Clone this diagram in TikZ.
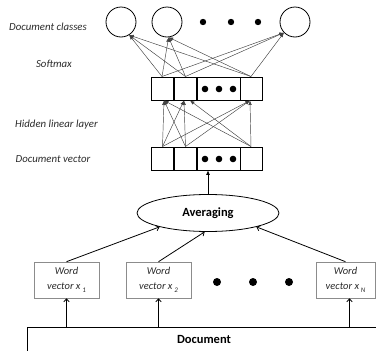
\documentclass[tikz,border=0pt]{standalone}
\usepackage{fontspec}
\setmainfont{Carlito}
\usetikzlibrary{arrows.meta,shapes.geometric}
\definecolor{txt}{HTML}{2A2A2A}
\definecolor{conn}{HTML}{404040}
\newcommand{\wsub}[1]{\,\raisebox{-2.5pt}{\fontsize{7}{8}\selectfont #1}}
\tikzset{
  lbl/.style={font=\fontsize{10.8}{13}\selectfont\itshape, text=txt, inner sep=0pt},
  cls/.style={circle, draw, line width=0.8pt, minimum size=30pt, inner sep=0pt},
  cell/.style={rectangle, draw, line width=0.95pt, minimum width=22pt, minimum height=23pt, inner sep=0pt},
  midcell/.style={rectangle, draw, line width=0.7pt, minimum width=43pt, minimum height=23pt, inner sep=0pt},
  wordbox/.style={rectangle, draw=gray!90, line width=0.6pt, minimum height=36pt, inner sep=0pt, align=center,
     font=\fontsize{10.5}{15}\selectfont\itshape, text=txt},
  conarrow/.style={conn, line width=0.45pt, -{Latex[length=4.5pt,width=3.5pt]}},
  openarrow/.style={line width=0.8pt, -{Straight Barb[length=3pt,width=5.5pt]}},
  dotf/.style={fill=black},
}
\begin{document}
\begin{tikzpicture}[x=1pt,y=-1pt]
\useasboundingbox (0,0) rectangle (376,351);
\clip (0,0) rectangle (376,351);
% output classes
\node[cls] (c1) at (121,22) {};
\node[cls] (c2) at (167,22) {};
\node[cls] (c3) at (295,22) {};
\fill[dotf] (203,22) circle (3.2) (231,22) circle (3.2) (258,22) circle (3.2);
% hidden layer
\node[midcell] (hm) at (218.5,88.5) {};
\node[cell] (h1) at (162,88.5) {};
\node[cell] (h2) at (185.5,88.5) {};
\node[cell] (h4) at (251,88.5) {};
\fill[dotf] (205,89) circle (3.3) (219,89) circle (3.3) (233,89) circle (3.3);
% document vector
\node[midcell] (dm) at (218.5,158.5) {};
\node[cell] (d1) at (162.5,158.5) {};
\node[cell] (d2) at (185.5,158.5) {};
\node[cell] (d4) at (251,158.5) {};
\fill[dotf] (205,159) circle (3.3) (219,159) circle (3.3) (233,159) circle (3.3);
% labels
\node[lbl] (l1) at (48,27) {Document classes};
\node[lbl] (l2) at (54,64) {Softmax};
\node[lbl] (l3) at (56.5,125) {Hidden linear layer};
\node[lbl] (l4) at (53,159) {Document vector};
% softmax connections
\foreach \s in {h1,h2,h4}{
  \draw[conarrow] (\s.north) -- (c1.-58);
  \draw[conarrow] (\s.north) -- (c2.-84);
  \draw[conarrow] (\s.north) -- (c3.-136);
}
% hidden connections
\foreach \s in {d1,d2,d4}{
  \draw[conarrow] (\s.north) -- ([xshift=2pt]h1.south);
  \draw[conarrow] (\s.north) -- ([xshift=-1pt]h4.south);
}
\draw[conarrow] (d1.north) -- ([xshift=-1.5pt]h2.south);
\draw[conarrow] (d2.north) -- ([xshift=-1.5pt]h2.south);
\draw[conarrow] (d4.north) -- ([xshift=4.5pt]h2.south);
% averaging
\node[ellipse, draw, line width=0.8pt, minimum width=142pt, minimum height=37pt, inner sep=0pt,
      font=\fontsize{12.5}{14}\selectfont\bfseries] (e) at (208,213) {Averaging};
\draw[line width=0.8pt, -{Latex[length=4.5pt,width=4pt]}] (e.north) -- (e.north |- dm.south);
% word vectors
\node[wordbox, minimum width=65pt] (w1) at (66.5,280) {Word\\vector x\wsub{1}};
\node[wordbox, minimum width=65pt] (w2) at (158.5,280) {Word\\vector x\wsub{2}};
\node[wordbox, minimum width=59pt] (w3) at (345.5,280) {Word\\vector x\wsub{N}};
\fill[dotf] (217,282) circle (4) (253,282) circle (4) (289,282) circle (4);
\draw[openarrow] (w1.north) -- (e.196);
\draw[openarrow] (w2.north) -- (e.260);
\draw[openarrow] (w3.north) -- (e.-16);
% document
\node[rectangle, draw, line width=0.8pt, minimum width=380pt, minimum height=45pt, anchor=north west, inner sep=0pt] (doc) at (27,327) {};
\node[font=\fontsize{12.5}{14}\selectfont\bfseries, inner sep=0pt] (doct) at (204,339) {Document};
\draw[openarrow] (w1.south |- doc.north) -- (w1.south);
\draw[openarrow] (w2.south |- doc.north) -- (w2.south);
\draw[openarrow] ([xshift=4pt]w3.south |- doc.north) -- ([xshift=4pt]w3.south);
\end{tikzpicture}
\end{document}
